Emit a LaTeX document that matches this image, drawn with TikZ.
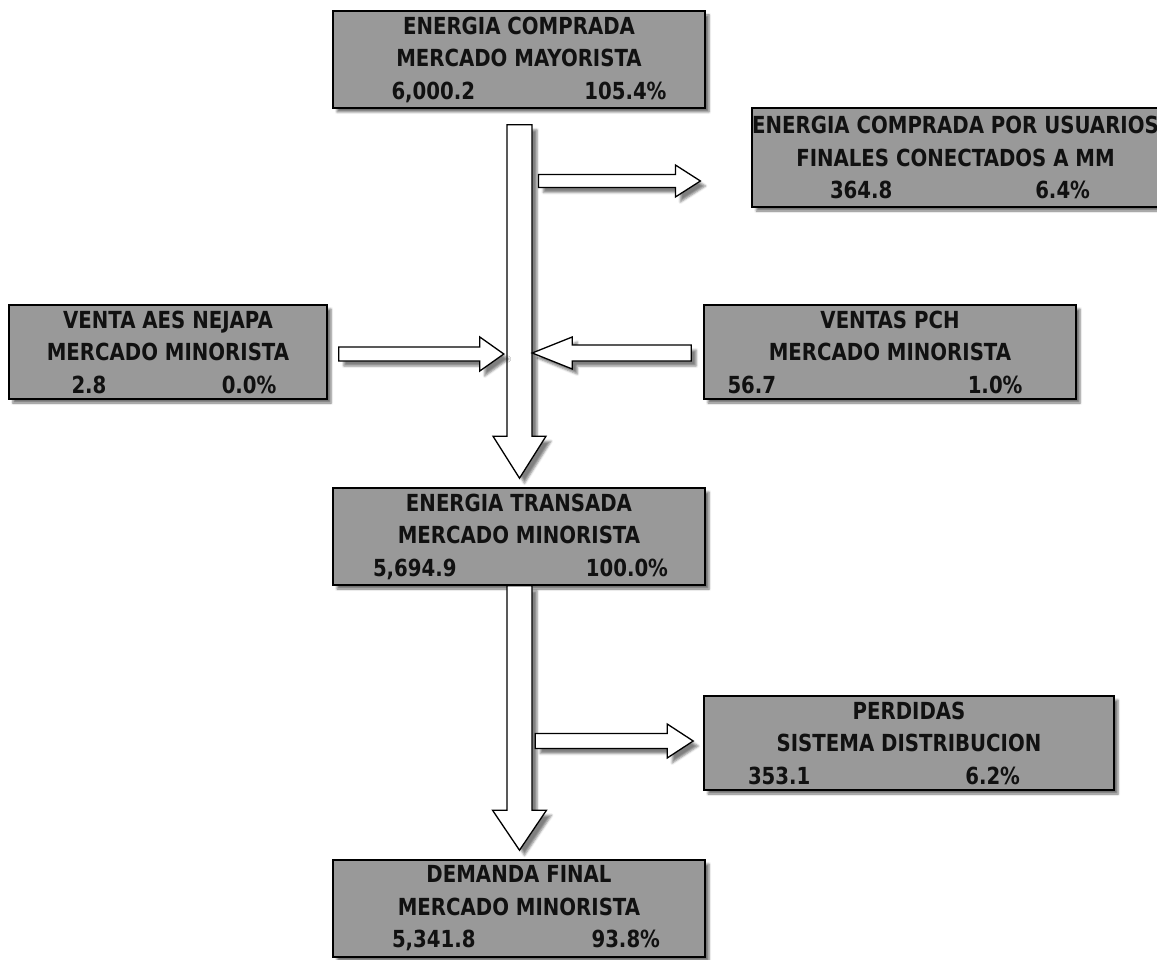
\documentclass[tikz,border=0pt]{standalone}
\usepackage{fontspec}
\setmainfont{DejaVu Sans}[FakeStretch=0.84]
\usepackage{tikz}
\usetikzlibrary{calc, shadows, shadows.blur}
\definecolor{CajaGris}{RGB}{153,153,153}
\definecolor{Texto}{RGB}{17,17,17}

% tercera linea: ancho, valor, porcentaje, desplazamiento
\newcommand{\vals}[4]{\hspace*{#4pt}\makebox[#1pt]{#2\hfill#3}}
% flecha de bloque: cola, punta, medio cuerpo, media cabeza, largo cabeza
\newcommand{\flecha}[5]{%
	\coordinate (fh) at ($(#2)!#5pt!(#1)$);
	\draw[bloque] ($(#1)!#3pt!90:(#2)$) -- ($(fh)!#3pt!90:(#2)$)
		-- ($(fh)!#4pt!90:(#2)$) -- (#2) -- ($(fh)!#4pt!-90:(#2)$)
		-- ($(fh)!#3pt!-90:(#2)$) -- ($(#1)!#3pt!-90:(#2)$) -- cycle;}

\begin{document}
\begin{tikzpicture}[x=1pt,y=-1pt,
	caja/.style={draw=black,line width=1.6pt,fill=CajaGris,text=Texto,
		inner sep=0pt,align=center,minimum width=372,minimum height=97,
		font=\bfseries\fontsize{23.5}{32.5}\selectfont,
		blur shadow={shadow xshift=4pt,shadow yshift=-4pt,shadow blur steps=4,shadow opacity=55}},
	bloque/.style={draw=black,line width=1.3pt,fill=white,line join=miter,
		blur shadow={shadow xshift=5pt,shadow yshift=-5pt,shadow blur steps=4,shadow opacity=50}}]
\useasboundingbox (0,0) rectangle (1157,960);

% cajas
\node[caja] (compra) at (519,59.5)
	{ENERGIA COMPRADA\\MERCADO MAYORISTA\\\vals{275}{6,000.2}{105.4\%}{20}};
\node[caja,minimum width=399,minimum height=99] (mm) at (955.5,157.5)
	{ENERGIA COMPRADA POR USUARIOS\\FINALES CONECTADOS A MM\\\vals{260}{364.8}{6.4\%}{9}};
\node[caja,minimum width=318,minimum height=94] (aes) at (168,352)
	{VENTA AES NEJAPA\\MERCADO MINORISTA\\\vals{205}{2.8}{0.0\%}{12}};
\node[caja,minimum height=94] (pch) at (890,352)
	{VENTAS PCH\\MERCADO MINORISTA\\\vals{295}{56.7}{1.0\%}{-30}};
\node[caja] (transada) at (519,536.5)
	{ENERGIA TRANSADA\\MERCADO MINORISTA\\\vals{295}{5,694.9}{100.0\%}{3}};
\node[caja,minimum width=410,minimum height=94] (perdidas) at (909,743)
	{PERDIDAS\\SISTEMA DISTRIBUCION\\\vals{272}{353.1}{6.2\%}{-50}};
\node[caja] (demanda) at (519,908.5)
	{DEMANDA FINAL\\MERCADO MINORISTA\\\vals{268}{5,341.8}{93.8\%}{14}};

% extremos de las flechas
\coordinate (v1a) at ($(compra.south)+(0.5,16)$);
\coordinate (v1b) at ($(transada.north)+(0.5,-9)$);
\coordinate (v2a) at ($(transada.south)+(0.5,0)$);
\coordinate (v2b) at ($(demanda.north)+(0.5,-9)$);
\coordinate (mma) at ($(mm.west)+(-213,23.5)$);
\coordinate (mmb) at ($(mm.west)+(-51,23.5)$);
\coordinate (aesa) at ($(aes.east)+(11,2)$);
\coordinate (aesb) at ($(aes.east)+(176,2)$);
\coordinate (pcha) at ($(pch.west)+(-12,1)$);
\coordinate (pchb) at ($(pch.west)+(-171,1)$);
\coordinate (pera) at ($(perdidas.west)+(-168,-2)$);
\coordinate (perb) at ($(perdidas.west)+(-10,-2)$);

% flechas
\flecha{v1a}{v1b}{12.5}{26.5}{42}
\flecha{v2a}{v2b}{12.5}{27}{40}
\flecha{mma}{mmb}{6.5}{16}{25}
\flecha{aesa}{aesb}{7}{17}{24}
\flecha{pcha}{pchb}{8}{16}{40}
\flecha{pera}{perb}{7.5}{17}{26}
\end{tikzpicture}
\end{document}
